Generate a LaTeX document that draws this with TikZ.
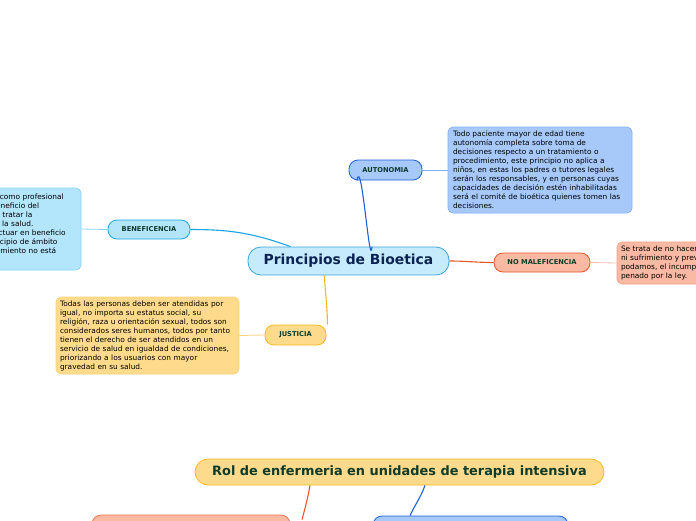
\documentclass[tikz,border=0pt]{standalone}
\usepackage{fontspec}
\setmainfont{DejaVu Sans}
\usetikzlibrary{calc}
\definecolor{dgreen}{HTML}{0E3B2A}
\definecolor{navy}{HTML}{0B2352}
\definecolor{cenfill}{HTML}{C6EBFC}
\definecolor{cendraw}{HTML}{3AA6DC}
\definecolor{aufill}{HTML}{A7C9FA}
\definecolor{audraw}{HTML}{1E5FD2}
\definecolor{aunote}{HTML}{80B0F5}
\definecolor{befill}{HTML}{B3E6FB}
\definecolor{bedraw}{HTML}{19A6E2}
\definecolor{benote}{HTML}{88D4F5}
\definecolor{nmfill}{HTML}{F9B9A3}
\definecolor{nmdraw}{HTML}{E85625}
\definecolor{nmnote}{HTML}{F4A088}
\definecolor{jufill}{HTML}{FEDB8C}
\definecolor{judraw}{HTML}{F6B81C}
\definecolor{junote}{HTML}{FDD27A}
\tikzset{
  x=1pt, y=-1pt,
  pill/.style={rounded corners=9pt, draw, line width=0.8pt, inner sep=0pt,
    font=\bfseries\fontsize{6.7}{8}\selectfont, text=dgreen},
  bigpill/.style={rounded corners=13pt, draw, line width=0.8pt, inner sep=0pt},
  note/.style={rounded corners=5pt, draw, line width=0.7pt, inner sep=0pt,
    font=\fontsize{7.4}{9}\selectfont, align=left, text=black},
  link/.style={line width=1.1pt},
  thin/.style={line width=0.8pt},
}
\begin{document}
\begin{tikzpicture}
\useasboundingbox (0,0) rectangle (696,520);
% central
\node[bigpill, fill=cenfill, draw=cendraw, text=navy, minimum width=201pt, minimum height=28pt, font=\bfseries\fontsize{13.9}{16}\selectfont] (cen) at (348.5,261) {Principios de Bioetica};
% labels
\node[pill, fill=aufill, draw=audraw, minimum width=73pt, minimum height=20pt] (au) at (385.5,170) {AUTONOMIA};
\node[pill, fill=befill, draw=bedraw, minimum width=82pt, minimum height=19pt] (be) at (149,229.5) {BENEFICENCIA};
\node[pill, fill=nmfill, draw=nmdraw, minimum width=96pt, minimum height=19pt] (nm) at (542,262.5) {NO MALEFICENCIA};
\node[pill, fill=jufill, draw=judraw, minimum width=61pt, minimum height=20pt] (ju) at (295.5,335) {JUSTICIA};
% notes
\node[note, fill=aufill, draw=aunote, minimum width=184pt, minimum height=86pt, text width=174pt] (aun) at (540,170) {Todo paciente mayor de edad tiene\\autonomía completa sobre toma de\\decisiones respecto a un tratamiento o\\procedimiento, este principio no aplica a\\niños, en estas los padres o tutores legales\\serán los responsables, y en personas cuyas\\capacidades de decisión estén inhabilitadas\\será el comité de bioética quienes tomen las\\decisiones.};
\node[note, fill=befill, draw=benote, minimum width=183pt, minimum height=82pt, text width=174pt] (ben) at (-10.5,229) {\hspace*{7pt}Hace referencia a obrar como profesional\\\hspace*{1pt}velando siempre por el beneficio del\\\hspace*{11pt}paciente y su familia al tratar la\\\hspace*{-2pt}enfermedad y al promover la salud.\\\hspace*{-4.5pt}Es la obligación moral de actuar en beneficio\\\hspace*{6pt}de los demás, es un principio de ámbito\\\hspace*{18pt}privado y su incumplimiento no está\\penado por la ley.};
\node[note, fill=nmfill, draw=nmnote, minimum width=183pt, minimum height=42pt, text width=175pt] (nmn) at (708.5,263) {Se trata de no hacer daño\\ni sufrimiento y prevenirlo en lo que\\podamos, el incumplimiento está\\penado por la ley.};
\node[note, fill=jufill, draw=junote, minimum width=183pt, minimum height=77pt, text width=175pt] (jun) at (147.5,335.5) {Todas las personas deben ser atendidas por\\igual, no importa su estatus social, su\\religión, raza u orientación sexual, todos son\\considerados seres humanos, todos por tanto\\tienen el derecho de ser atendidos en un\\servicio de salud en igualdad de condiciones,\\priorizando a los usuarios con mayor\\gravedad en su salud.};
% second map
\node[bigpill, fill=jufill, draw=judraw, text=dgreen, minimum width=409pt, minimum height=26pt, font=\bfseries\fontsize{12.9}{15}\selectfont] (rol) at (399.5,472) {Rol de enfermeria en unidades de terapia intensiva};
\node[rounded corners=9pt, draw=nmdraw!80, fill=nmfill, line width=0.8pt, minimum width=198pt, minimum height=30pt] (ob) at (191,530) {};
\node[rounded corners=9pt, draw=audraw, fill=aufill, line width=0.8pt, minimum width=195pt, minimum height=30pt] (bb) at (470.5,531) {};
% connectors
\draw[link, draw=audraw] ([xshift=23.5pt]cen.north) to[out=-95,in=80] ([xshift=-28.5pt]au.south);
\draw[link, draw=bedraw] ([xshift=-58pt]cen.north) to[out=160,in=0] (be.east);
\draw[link, draw=nmdraw] (cen.east) to[out=0,in=180] (nm.west);
\draw[link, draw=judraw] ([xshift=-24pt]cen.south) to[out=-88,in=90] ([xshift=1pt]ju.north east);
\draw[thin, draw=aunote] (au.east) -- (aun.west);
\draw[thin, draw=benote] (be.west) -- (ben.east);
\draw[thin, draw=nmnote!70] (nm.east) -- (nmn.west);
\draw[thin, draw=junote] (ju.west) -- (jun.east);
\draw[link, draw=nmdraw] ([xshift=-89.5pt]rol.south) to[out=-100,in=75] ([xshift=111pt,yshift=-5pt]ob.north);
\draw[link, draw=audraw] ([xshift=25.5pt]rol.south) to[out=-110,in=65] ([xshift=-60.5pt]bb.north);
\end{tikzpicture}
\end{document}
